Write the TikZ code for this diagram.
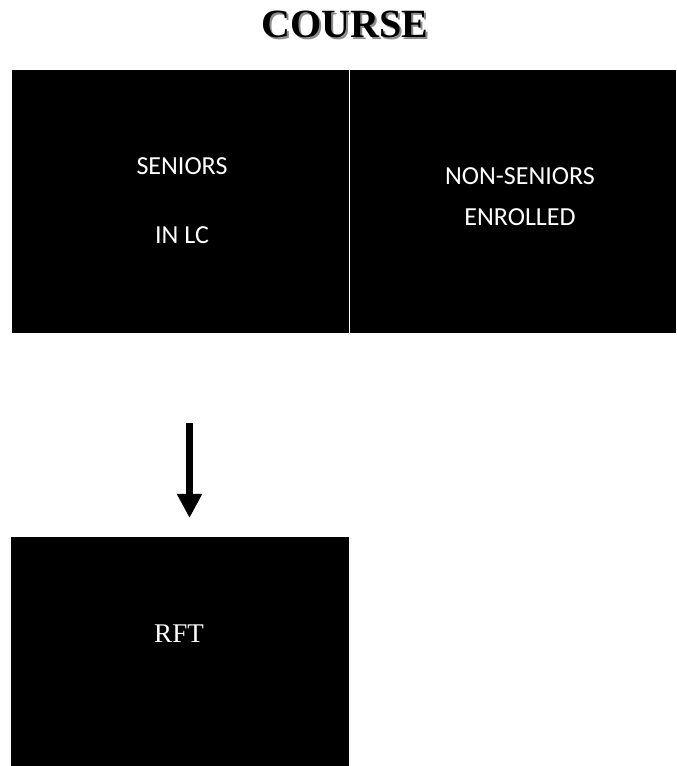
\documentclass[tikz,border=0pt]{standalone}
\usepackage{fontspec}
\setmainfont{Liberation Serif}
\newfontfamily\boxfont{Carlito}
\usetikzlibrary{positioning,arrows.meta}

\tikzset{
  blackbox/.style={rectangle,fill=black,inner sep=0pt,anchor=north west},
  boxtext/.style={text=white,inner sep=0pt,align=center},
  flowarrow/.style={line width=0.1875cm,-{Triangle[width=0.59cm,length=0.6cm]}}
}

\begin{document}
\begin{tikzpicture}[x=0.025cm,y=-0.025cm]
    \useasboundingbox (0,0) rectangle (676,766);

    % title
      \node[text=black!45,font=\fontsize{28.5pt}{34pt}\selectfont\bfseries] (titleshadow) at (347,26) {COURSE};
      \node[font=\fontsize{28.5pt}{34pt}\selectfont\bfseries] (title) at (345,24) {COURSE};

    % main modules
      \node[blackbox,minimum width=8.41cm,minimum height=6.575cm] (seniors) at (12,70) {};
      \node[blackbox,minimum width=8.16cm,minimum height=6.575cm] (nonseniors) at (349.7,70) {};
      \node[blackbox,minimum width=8.45cm,minimum height=5.725cm] (rft) at (11,537) {};

      % texts
      \node[boxtext,font=\boxfont\fontsize{18.5pt}{49.4pt}\selectfont] (seniorslbl) at (182,200.75) {SENIORS\\IN LC};
      \node[boxtext,font=\boxfont\fontsize{18.5pt}{29.2pt}\selectfont] (nonseniorslbl) at (520,197) {NON-SENIORS\\ENROLLED};
      \node[boxtext,font=\fontsize{19.2pt}{23pt}\selectfont] (rftlbl) at (179,634) {RFT};

    % connection
      \coordinate (arrowtop) at (189.5,423);
      \coordinate (arrowtip) at (189.5,518);
      \draw[flowarrow] (arrowtop) -- (arrowtip);

\end{tikzpicture}
\end{document}
